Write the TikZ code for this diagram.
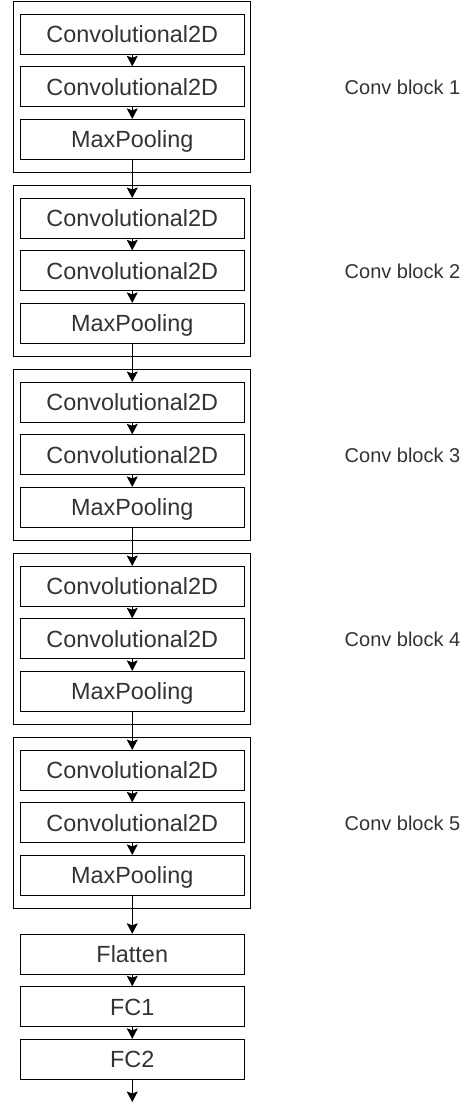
\documentclass[tikz,border=0pt]{standalone}
\usepackage{fontspec}
\setmainfont{Liberation Sans}
\usetikzlibrary{arrows.meta}
\begin{document}
\begin{tikzpicture}[x=1pt,y=-1pt,
  layer/.style={draw=black,line width=1pt,minimum width=224.5pt,minimum height=40pt,
    inner sep=0pt,text height=16.7pt,text depth=0pt,
    font=\fontsize{23.4}{28}\selectfont,text=black!80},
  group/.style={draw=black,line width=1pt,minimum width=237pt,minimum height=171.5pt,inner sep=0pt},
  tag/.style={inner sep=0pt,text height=14.3pt,text depth=0pt,
    font=\fontsize{20}{24}\selectfont,text=black!80},
  arr/.style={line width=1pt,-{Stealth[length=10.5pt,width=11pt,inset=2pt]}}]
\useasboundingbox (0,0) rectangle (463,1107);

% five convolutional blocks
\foreach \k in {0,...,4}{
  \pgfmathsetmacro\T{1+184*\k}
  \node[group] (g\k) at (132,\T+86) {};
  \node[layer] (a\k) at (132.25,\T+33.5) {Convolutional2D};
  \node[layer] (b\k) at (132.25,\T+85.8) {Convolutional2D};
  \node[layer] (c\k) at (132.25,\T+138.4) {MaxPooling};
  \pgfmathtruncatemacro\num{\k+1}
  \node[tag] (t\k) at (402.5,\T+86.5) {Conv block \num};
  \draw[arr] (a\k.south) -- (b\k.north);
  \draw[arr] (b\k.south) -- (c\k.north);
}

% links between consecutive blocks
\foreach \k in {0,...,3}{
  \pgfmathtruncatemacro\n{\k+1}
  \draw[arr] (c\k.south) -- (a\n.north);
}

% classifier head
\node[layer] (flat) at (132.25,954.3) {Flatten};
\node[layer] (fc1) at (132.25,1006.7) {FC1};
\node[layer] (fc2) at (132.25,1059.3) {FC2};
\coordinate (out) at (132.25,1102);

\draw[arr] (c4.south) -- (flat.north);
\draw[arr] (flat.south) -- (fc1.north);
\draw[arr] (fc1.south) -- (fc2.north);
\draw[arr] (fc2.south) -- (out);
\end{tikzpicture}
\end{document}
